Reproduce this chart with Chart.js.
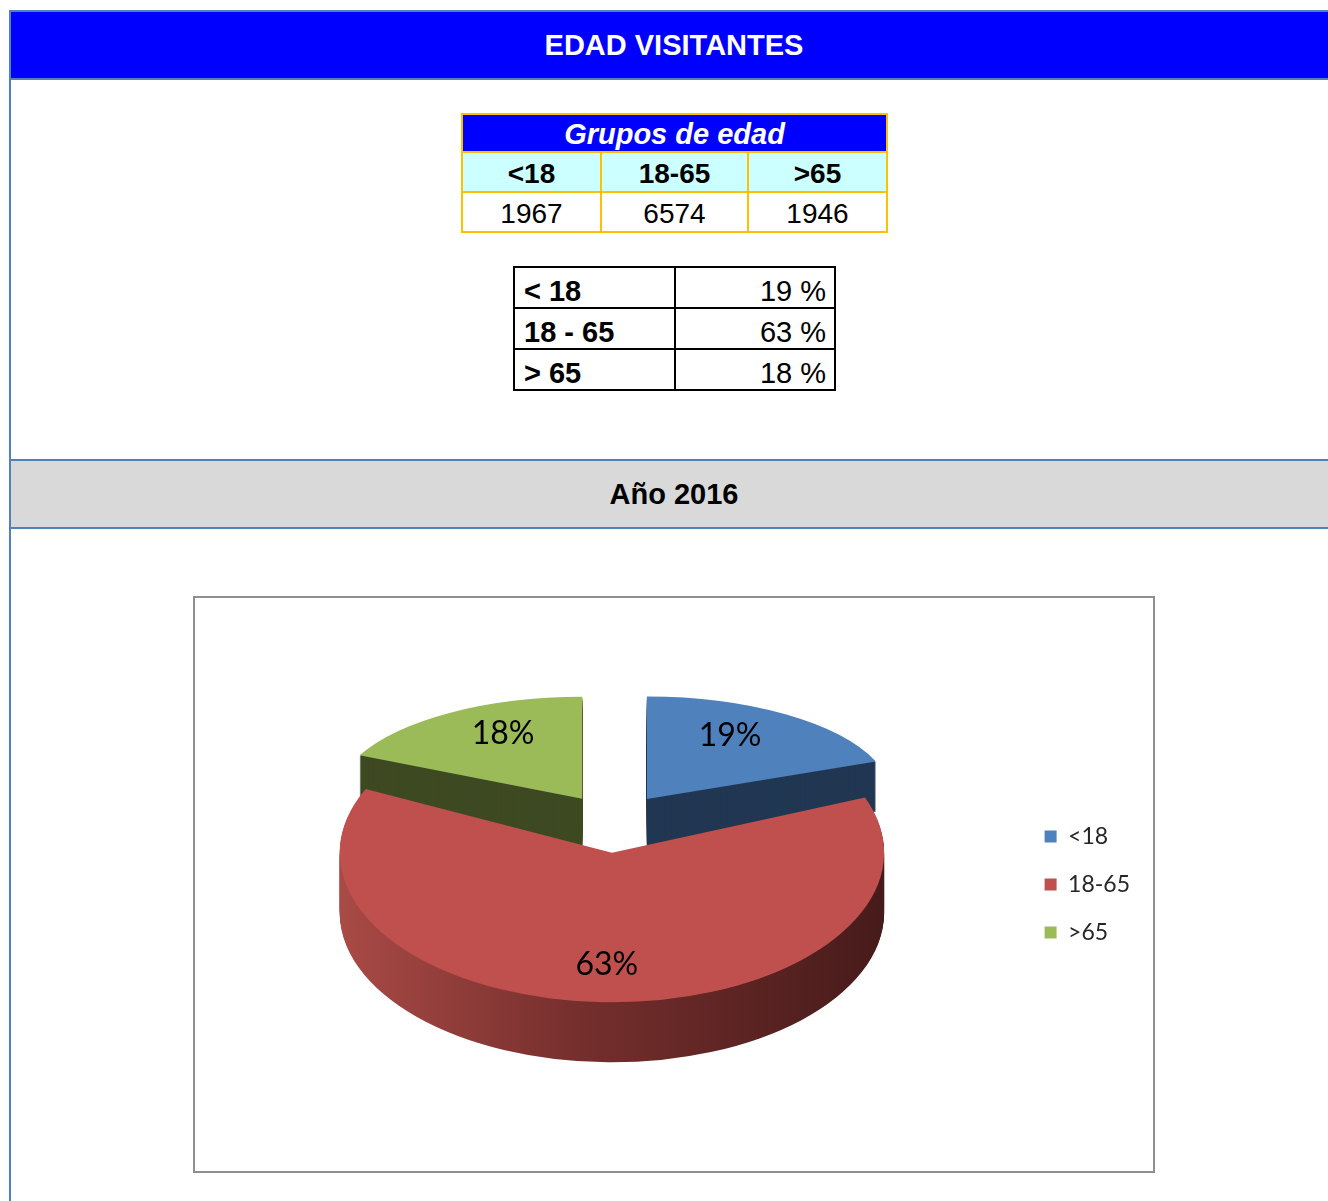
<!DOCTYPE html>
<html lang="es">
<head>
<meta charset="UTF-8">
<title>Edad visitantes</title>
<script src="https://cdn.jsdelivr.net/npm/chart.js@4"></script>
<style>
  html, body { margin: 0; padding: 0; background: #fff; overflow: hidden; }
  body { width: 1328px; height: 1201px; position: relative; font-family: "Liberation Sans", Arial, sans-serif; }
  .line { position: absolute; background: #4F81BD; }
  .bar { position: absolute; left: 11px; width: 1326px; height: 66px; text-align: center; font-weight: bold; line-height: 66px; font-size: 29px; }
  #title { top: 12px; background: #0000FF; color: #fff; }
  #year { top: 461px; background: #D9D9D9; color: #000; }
  table { position: absolute; border-collapse: collapse; table-layout: fixed; }
  td { padding: 0; line-height: 1; }
  #groups { left: 461px; top: 113px; width: 425px; }
  #groups td { border: 2px solid #FFC000; text-align: center; font-size: 28px; vertical-align: bottom; padding-bottom: 3px; }
  #groups tr.head td { background: #0000FF; color: #fff; font-style: italic; font-weight: bold; font-size: 29px; height: 34px; padding-bottom: 2px; }
  #groups tr.cats td { background: #CCFFFF; font-weight: bold; height: 35px; }
  #groups tr.nums td { height: 35px; }
  #shares { left: 513px; top: 266px; width: 321px; }
  #shares td { border: 2px solid #000; font-size: 29px; height: 38px; vertical-align: bottom; padding-bottom: 1px; }
  #shares td.k { font-weight: bold; text-align: left; padding-left: 9px; }
  #shares td.v { text-align: right; padding-right: 8px; }
  #frame { position: absolute; left: 193px; top: 596px; width: 962px; height: 577px; box-sizing: border-box; border: 2px solid #8f8f8f; background: #fff; }
  #pie { display: block; }
</style>
</head>
<body>
<div class="line" style="left:9px; top:10px; width:2px; height:1191px;"></div>
<div class="line" style="left:9px; top:10px; width:1330px; height:2px;"></div>
<div class="bar" id="title">EDAD VISITANTES</div>
<div class="line" style="left:9px; top:78px; width:1330px; height:2px;"></div>

<table id="groups">
  <colgroup><col style="width:139px"><col style="width:147px"><col style="width:139px"></colgroup>
  <tr class="head"><td colspan="3">Grupos de edad</td></tr>
  <tr class="cats" id="catRow"></tr>
  <tr class="nums" id="numRow"></tr>
</table>

<table id="shares">
  <colgroup><col style="width:161px"><col style="width:160px"></colgroup>
  <tbody id="shareRows"></tbody>
</table>

<div class="line" style="left:9px; top:459px; width:1330px; height:2px;"></div>
<div class="bar" id="year">Año 2016</div>
<div class="line" style="left:9px; top:527px; width:1330px; height:2px;"></div>

<div id="frame"><canvas id="pie" width="958" height="573"></canvas></div>

<script>
// age groups and visitor counts
const groups = ['<18', '18-65', '>65'];
const groupLabels = ['< 18', '18 - 65', '> 65'];
const visitors = [1967, 6574, 1946];
const shares = [19, 63, 18];

const topColors = ['#4F81BD', '#C0504D', '#9BBB59'];
const wallColors = ['#213752', null, '#3E4A22'];

const esc = s => s.replace('<', '&lt;').replace('>', '&gt;');

// fill the two summary tables
const catRow = document.getElementById('catRow');
const numRow = document.getElementById('numRow');
groups.forEach((g, i) => {
  catRow.insertAdjacentHTML('beforeend', '<td>' + esc(g) + '</td>');
  numRow.insertAdjacentHTML('beforeend', '<td>' + visitors[i] + '</td>');
});
const shareRows = document.getElementById('shareRows');
groupLabels.forEach((g, i) => {
  shareRows.insertAdjacentHTML('beforeend',
    '<tr><td class="k">' + esc(g) + '</td><td class="v">' + shares[i] + ' %</td></tr>');
});

// tilted, extruded pie built from the arc elements chart.js lays out.
// slices further back get squashed a bit more to fake perspective.
const pie3d = {
  id: 'pie3d',
  beforeDatasetsDraw(chart, args, opts) {
    const ctx = chart.ctx;
    const arcs = chart.getDatasetMeta(0).data;
    const geo = arcs.map((arc, i) => {
      const p = arc.getProps(['x', 'y', 'startAngle', 'endAngle', 'outerRadius']);
      const mid = (p.startAngle + p.endAngle) / 2;
      const s = Math.sin(mid);
      const k = opts.tilt + opts.tiltShift * s;
      return Object.assign(p, {
        i, arc, mid, k,
        sx: 1 + opts.widthShift * s,
        depth: Math.round(opts.depth * (1 + opts.depthShift * s)),
        ox: p.x + Math.cos(mid) * opts.explode,
        oy: p.y + opts.shiftY + s * opts.explode * k
      });
    });
    const place = (g, dy) => {
      ctx.translate(g.ox, g.oy + dy);
      ctx.scale(g.sx, g.k);
      ctx.translate(-g.x, -g.y);
    };
    // back slices first
    geo.slice().sort((a, b) => Math.sin(a.mid) - Math.sin(b.mid)).forEach(g => {
      for (let h = g.depth; h > 0; h--) {
        ctx.save();
        place(g, h);
        ctx.beginPath();
        ctx.moveTo(g.x, g.y);
        ctx.arc(g.x, g.y, g.outerRadius, g.startAngle, g.endAngle);
        ctx.closePath();
        if (wallColors[g.i]) {
          ctx.fillStyle = wallColors[g.i];
        } else {
          const grad = ctx.createLinearGradient(g.x - g.outerRadius, 0, g.x + g.outerRadius, 0);
          grad.addColorStop(0, '#a94a46');
          grad.addColorStop(0.45, '#742e2c');
          grad.addColorStop(1, '#471b1b');
          ctx.fillStyle = grad;
        }
        ctx.fill();
        ctx.restore();
      }
      ctx.save();
      place(g, 0);
      g.arc.draw(ctx);
      ctx.restore();
    });
    // percentage labels
    ctx.save();
    ctx.font = opts.labelFont;
    ctx.fillStyle = '#000';
    ctx.textAlign = 'center';
    ctx.textBaseline = 'middle';
    geo.forEach(g => {
      const lx = g.ox + Math.cos(g.mid) * g.outerRadius * g.sx * opts.labelAtX;
      const ly = g.oy + Math.sin(g.mid) * g.outerRadius * g.k * opts.labelAtY;
      ctx.fillText(chart.data.datasets[0].data[g.i] + '%', lx, ly);
    });
    ctx.restore();
    return false;
  }
};

new Chart(document.getElementById('pie'), {
  type: 'pie',
  data: {
    labels: groups,
    datasets: [{
      data: shares,
      backgroundColor: topColors,
      borderWidth: 0,
      radius: 258
    }]
  },
  options: {
    responsive: false,
    animation: false,
    events: [],
    layout: { padding: { left: 13, right: 13 } },
    plugins: {
      legend: {
        position: 'right',
        labels: {
          boxWidth: 12,
          boxHeight: 12,
          padding: 25,
          color: '#262626',
          font: { family: 'Lato', size: 23 }
        }
      },
      tooltip: { enabled: false },
      pie3d: {
        tilt: 0.48,
        tiltShift: 0.1,
        widthShift: 0.055,
        depth: 55,
        depthShift: 0.1,
        explode: 59,
        shiftY: -66,
        labelAtX: 0.6,
        labelAtY: 0.75,
        labelFont: '32px Lato'
      }
    }
  },
  plugins: [pie3d]
});
</script>
</body>
</html>
